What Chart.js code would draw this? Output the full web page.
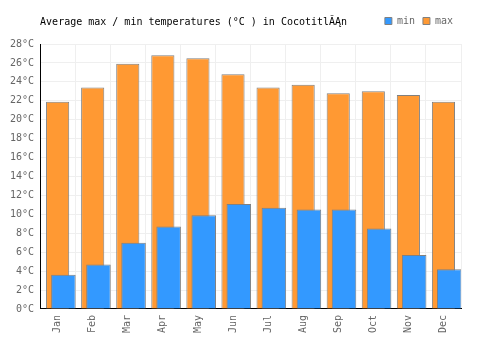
<!DOCTYPE html>
<html>
<head>
<meta charset="utf-8">
<script src="https://cdn.jsdelivr.net/npm/chart.js@4.4.1/dist/chart.umd.min.js"></script>
<style>
  html, body { margin: 0; padding: 0; background: #fff; }
  #wrap { width: 500px; height: 350px; }
</style>
</head>
<body>
<div id="wrap"><canvas id="temps"></canvas></div>
<script>
// data
const months = ['Jan', 'Feb', 'Mar', 'Apr', 'May', 'Jun', 'Jul', 'Aug', 'Sep', 'Oct', 'Nov', 'Dec'];
const minTemps = [3.6, 4.7, 7.0, 8.7, 9.9, 11.1, 10.7, 10.5, 10.5, 8.5, 5.7, 4.2];
const maxTemps = [21.9, 23.4, 25.9, 26.8, 26.5, 24.8, 23.4, 23.7, 22.8, 23.0, 22.6, 21.9];
const titleText = 'Average max / min temperatures (°C ) in CocotitlĂĄn';

const monoFont = '"DejaVu Sans Mono", monospace';

// draws the title on the same line as the legend, left of it
const sideTitle = {
  id: 'sideTitle',
  afterDraw(chart) {
    const ctx = chart.ctx;
    ctx.save();
    ctx.font = '10px ' + monoFont;
    ctx.fillStyle = '#000';
    ctx.textBaseline = 'middle';
    ctx.textAlign = 'left';
    ctx.fillText(titleText, chart.chartArea.left, 22);
    ctx.restore();
  }
};

// a bit more room under the legend
const legendGap = {
  id: 'legendGap',
  beforeInit(chart) {
    const fit = chart.legend.fit;
    chart.legend.fit = function () {
      fit.bind(chart.legend)();
      this.height += 8;
    };
  }
};

const config = {
  type: 'bar',
  data: {
    labels: months,
    datasets: [
      {
        label: 'min',
        data: minTemps,
        backgroundColor: 'rgb(51, 153, 255)',
        borderColor: 'rgb(128, 128, 128)',
        borderWidth: 1,
        categoryPercentage: 0.66,
        barPercentage: 2.12
      },
      {
        label: 'max',
        data: maxTemps,
        backgroundColor: 'rgb(255, 153, 51)',
        borderColor: 'rgb(128, 128, 128)',
        borderWidth: 1,
        grouped: false,
        categoryPercentage: 1,
        barPercentage: 0.66
      },
      {
        // empty slot so the min bars sit right of centre
        label: 'spacer',
        data: months.map(() => null),
        order: -1
      }
    ]
  },
  options: {
    responsive: true,
    maintainAspectRatio: false,
    animation: false,
    layout: {
      padding: { left: 4, right: 39, top: 8, bottom: 11 }
    },
    plugins: {
      title: { display: false },
      tooltip: { enabled: false },
      legend: {
        display: true,
        position: 'top',
        align: 'end',
        labels: {
          filter: (item) => item.text !== 'spacer',
          boxWidth: 7,
          boxHeight: 7,
          padding: 8,
          color: '#666',
          font: { family: monoFont, size: 10 }
        }
      }
    },
    scales: {
      x: {
        grid: { color: '#efefef', drawTicks: false },
        border: { color: '#000', width: 1 },
        ticks: {
          color: '#666',
          font: { family: monoFont, size: 10 },
          minRotation: 90,
          maxRotation: 90,
          padding: 6
        }
      },
      y: {
        min: 0,
        max: 28,
        grid: { color: '#efefef', drawTicks: false },
        border: { color: '#000', width: 1 },
        ticks: {
          stepSize: 2,
          color: '#666',
          font: { family: monoFont, size: 10 },
          padding: 6,
          callback: (v) => v + '°C'
        }
      }
    }
  },
  plugins: [sideTitle, legendGap]
};

const tempChart = new Chart(document.getElementById('temps'), config);
</script>
</body>
</html>
